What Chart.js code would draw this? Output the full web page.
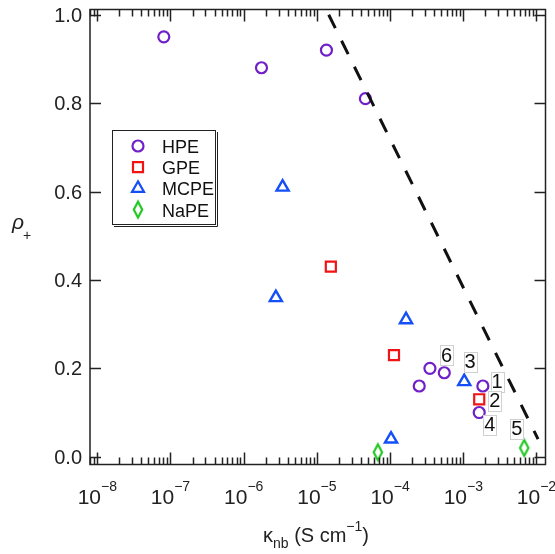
<!DOCTYPE html>
<html>
<head>
<meta charset="utf-8">
<script src="https://cdn.jsdelivr.net/npm/chart.js@4"></script>
<style>
  body { margin: 0; background: #fff; }
  canvas { display: block; }
</style>
</head>
<body>
<canvas id="myChart" width="555" height="554"></canvas>
<script>
// series values (x = conductivity in S/cm, y = rho+)
const hpeX = [8.1e-8, 1.75e-6, 1.35e-5, 4.6e-5, 2.5e-4, 3.5e-4, 5.5e-4, 1.85e-3, 1.65e-3];
const hpeY = [0.95, 0.88, 0.92, 0.81, 0.16, 0.20, 0.19, 0.16, 0.10];
const gpeX = [1.55e-5, 1.13e-4, 1.65e-3];
const gpeY = [0.43, 0.23, 0.13];
const mcpeX = [2.75e-6, 3.4e-6, 1.65e-4, 1.03e-4, 1.03e-3];
const mcpeY = [0.36, 0.61, 0.31, 0.04, 0.17];
const napeX = [6.8e-5, 6.8e-3];
const napeY = [0.01, 0.02];
const trendX = [1.45e-5, 1.05e-2];
const trendY = [1.0, 0.04];

// numbered annotations
const noteText = ["1", "2", "3", "4", "5", "6"];
const noteX = [2.9e-3, 2.7e-3, 1.24e-3, 2.3e-3, 5.4e-3, 5.9e-4];
const noteY = [0.170, 0.127, 0.215, 0.072, 0.063, 0.230];

// ticks
const yTicks = [0.0, 0.2, 0.4, 0.6, 0.8, 1.0];
const xDecades = [-8, -7, -6, -5, -4, -3, -2];

const seriesNames = ["HPE", "GPE", "MCPE", "NaPE"];
const seriesColors = ["#7020c8", "#f01414", "#1450f5", "#22c822"];

const FONT = "'Liberation Sans', Arial, sans-serif";

function toPoints(xs, ys) {
  return xs.map((x, i) => ({ x: x, y: ys[i] }));
}

// tall narrow diamond for NaPE
function makeDiamond(color) {
  const c = document.createElement("canvas");
  c.width = 14;
  c.height = 21;
  const g = c.getContext("2d");
  g.strokeStyle = color;
  g.lineWidth = 2.2;
  g.beginPath();
  g.moveTo(7, 2.5);
  g.lineTo(11.2, 10.5);
  g.lineTo(7, 18.5);
  g.lineTo(2.8, 10.5);
  g.closePath();
  g.stroke();
  return c;
}
const diamond = makeDiamond(seriesColors[3]);

function drawMarker(ctx, kind, cx, cy) {
  ctx.save();
  ctx.lineWidth = 2.2;
  ctx.strokeStyle = seriesColors[kind];
  ctx.beginPath();
  if (kind === 0) {
    ctx.arc(cx, cy, 5.5, 0, Math.PI * 2);
  } else if (kind === 1) {
    ctx.rect(cx - 5, cy - 5, 10, 10);
  } else if (kind === 2) {
    ctx.moveTo(cx, cy - 7);
    ctx.lineTo(cx + 6, cy + 3.5);
    ctx.lineTo(cx - 6, cy + 3.5);
    ctx.closePath();
  }
  ctx.stroke();
  if (kind === 3) ctx.drawImage(diamond, cx - 7, cy - 10.5);
  ctx.restore();
}

const framePlugin = {
  id: "framePlugin",
  afterDraw(chart) {
    const ctx = chart.ctx;
    const a = chart.chartArea;
    const xs = chart.scales.x;
    const ys = chart.scales.y;
    ctx.save();
    ctx.strokeStyle = "#222";
    ctx.fillStyle = "#222";
    ctx.lineWidth = 1.5;
    ctx.strokeRect(a.left, a.top, a.right - a.left, a.bottom - a.top);

    // y ticks, mirrored on right
    ctx.font = "20px " + FONT;
    ctx.textAlign = "right";
    ctx.textBaseline = "middle";
    yTicks.forEach((v) => {
      const py = Math.round(ys.getPixelForValue(v)) + 0.5;
      ctx.beginPath();
      ctx.moveTo(a.left, py);
      ctx.lineTo(a.left + 11, py);
      ctx.moveTo(a.right, py);
      ctx.lineTo(a.right - 11, py);
      ctx.stroke();
      ctx.fillText(v.toFixed(1), a.left - 8, py + 1);
    });

    // x log ticks, mirrored on top
    const lo = Math.log10(xs.min);
    const hi = Math.log10(xs.max);
    for (let d = -9; d <= -2; d++) {
      for (let m = 1; m <= 9; m++) {
        const lv = d + Math.log10(m);
        if (lv < lo || lv > hi) continue;
        const px = Math.round(xs.getPixelForValue(Math.pow(10, lv))) + 0.5;
        const len = m === 1 ? 12 : 7;
        ctx.beginPath();
        ctx.moveTo(px, a.bottom);
        ctx.lineTo(px, a.bottom - len);
        ctx.moveTo(px, a.top);
        ctx.lineTo(px, a.top + len);
        ctx.stroke();
      }
    }

    ctx.textBaseline = "alphabetic";
    ctx.textAlign = "left";
    xDecades.forEach((d) => {
      const px = xs.getPixelForValue(Math.pow(10, d));
      ctx.font = "21px " + FONT;
      const w1 = ctx.measureText("10").width;
      ctx.font = "14px " + FONT;
      const sup = String(d).replace("-", "\u2212");
      const w2 = ctx.measureText(sup).width;
      const x0 = px - (w1 + w2) / 2;
      ctx.font = "21px " + FONT;
      ctx.fillText("10", x0, 504);
      ctx.font = "14px " + FONT;
      ctx.fillText(sup, x0 + w1, 491);
    });

    // x axis title: kappa_nb (S cm^-1)
    const parts = [
      ["\u03ba", "20px", 0],
      ["nb", "14px", 6],
      [" (S cm", "20px", 0],
      ["\u22121", "14px", -11],
      [")", "20px", 0],
    ];
    let total = 0;
    parts.forEach((p) => {
      ctx.font = p[1] + " " + FONT;
      total += ctx.measureText(p[0]).width;
    });
    let tx = 316 - total / 2;
    parts.forEach((p) => {
      ctx.font = p[1] + " " + FONT;
      ctx.fillText(p[0], tx, 542 + p[2]);
      tx += ctx.measureText(p[0]).width;
    });

    // y axis title: rho_+
    ctx.font = "italic 21px " + FONT;
    ctx.fillText("\u03c1", 12, 229);
    const rw = ctx.measureText("\u03c1").width;
    ctx.font = "14px " + FONT;
    ctx.fillText("+", 12 + rw - 1, 240);

    // numbered notes with light boxes
    ctx.font = "20px " + FONT;
    ctx.textAlign = "center";
    ctx.textBaseline = "middle";
    noteText.forEach((t, i) => {
      const px = xs.getPixelForValue(noteX[i]);
      const py = ys.getPixelForValue(noteY[i]);
      const w = ctx.measureText(t).width + 2;
      ctx.fillStyle = "#fff";
      ctx.fillRect(px - w / 2, py - 10, w, 20);
      ctx.strokeStyle = "#d0d0d0";
      ctx.lineWidth = 1;
      ctx.strokeRect(Math.round(px - w / 2) + 0.5, Math.round(py - 10) + 0.5, Math.round(w), 20);
      ctx.fillStyle = "#111";
      ctx.fillText(t, px, py + 1);
    });

    // legend box
    ctx.strokeStyle = "#222";
    ctx.lineWidth = 1;
    ctx.fillStyle = "#fff";
    ctx.fillRect(112, 130, 103, 94);
    ctx.strokeRect(112.5, 130.5, 103, 94);
    ctx.beginPath();
    ctx.moveTo(217.5, 132);
    ctx.lineTo(217.5, 226.5);
    ctx.lineTo(114, 226.5);
    ctx.stroke();
    ctx.font = "18px " + FONT;
    ctx.textAlign = "left";
    ctx.textBaseline = "alphabetic";
    seriesNames.forEach((name, i) => {
      const base = 153 + i * 21.2;
      drawMarker(ctx, i, 138, base - 7);
      ctx.fillStyle = "#111";
      ctx.fillText(name, 162, base);
    });
    ctx.restore();
  },
};

const ctx = document.getElementById("myChart").getContext("2d");

new Chart(ctx, {
  type: "scatter",
  data: {
    datasets: [
      {
        type: "line",
        label: "trend",
        data: toPoints(trendX, trendY),
        borderColor: "#111",
        borderWidth: 3,
        borderDash: [15, 14],
        pointRadius: 0,
        fill: false,
      },
      {
        label: seriesNames[0],
        data: toPoints(hpeX, hpeY),
        pointStyle: "circle",
        pointRadius: 5.5,
        borderWidth: 2.2,
        borderColor: seriesColors[0],
        backgroundColor: "rgba(0,0,0,0)",
      },
      {
        label: seriesNames[1],
        data: toPoints(gpeX, gpeY),
        pointStyle: "rect",
        pointRadius: 7.1,
        borderWidth: 2.2,
        borderColor: seriesColors[1],
        backgroundColor: "rgba(0,0,0,0)",
      },
      {
        label: seriesNames[2],
        data: toPoints(mcpeX, mcpeY),
        pointStyle: "triangle",
        pointRadius: 7,
        borderWidth: 2.4,
        borderColor: seriesColors[2],
        backgroundColor: "rgba(0,0,0,0)",
      },
      {
        label: seriesNames[3],
        data: toPoints(napeX, napeY),
        pointStyle: diamond,
        pointRadius: 7,
        borderColor: seriesColors[3],
        backgroundColor: "rgba(0,0,0,0)",
      },
    ],
  },
  options: {
    responsive: false,
    animation: false,
    devicePixelRatio: 1,
    layout: { padding: { left: 90, right: 9.5, top: 9.5, bottom: 89.5 } },
    scales: {
      x: { type: "logarithmic", min: Math.pow(10, -8.0997), max: Math.pow(10, -1.877), display: false },
      y: { type: "linear", min: -0.0176, max: 1.0118, display: false },
    },
    plugins: {
      legend: { display: false },
      tooltip: { enabled: false },
    },
  },
  plugins: [framePlugin],
});
</script>
</body>
</html>
